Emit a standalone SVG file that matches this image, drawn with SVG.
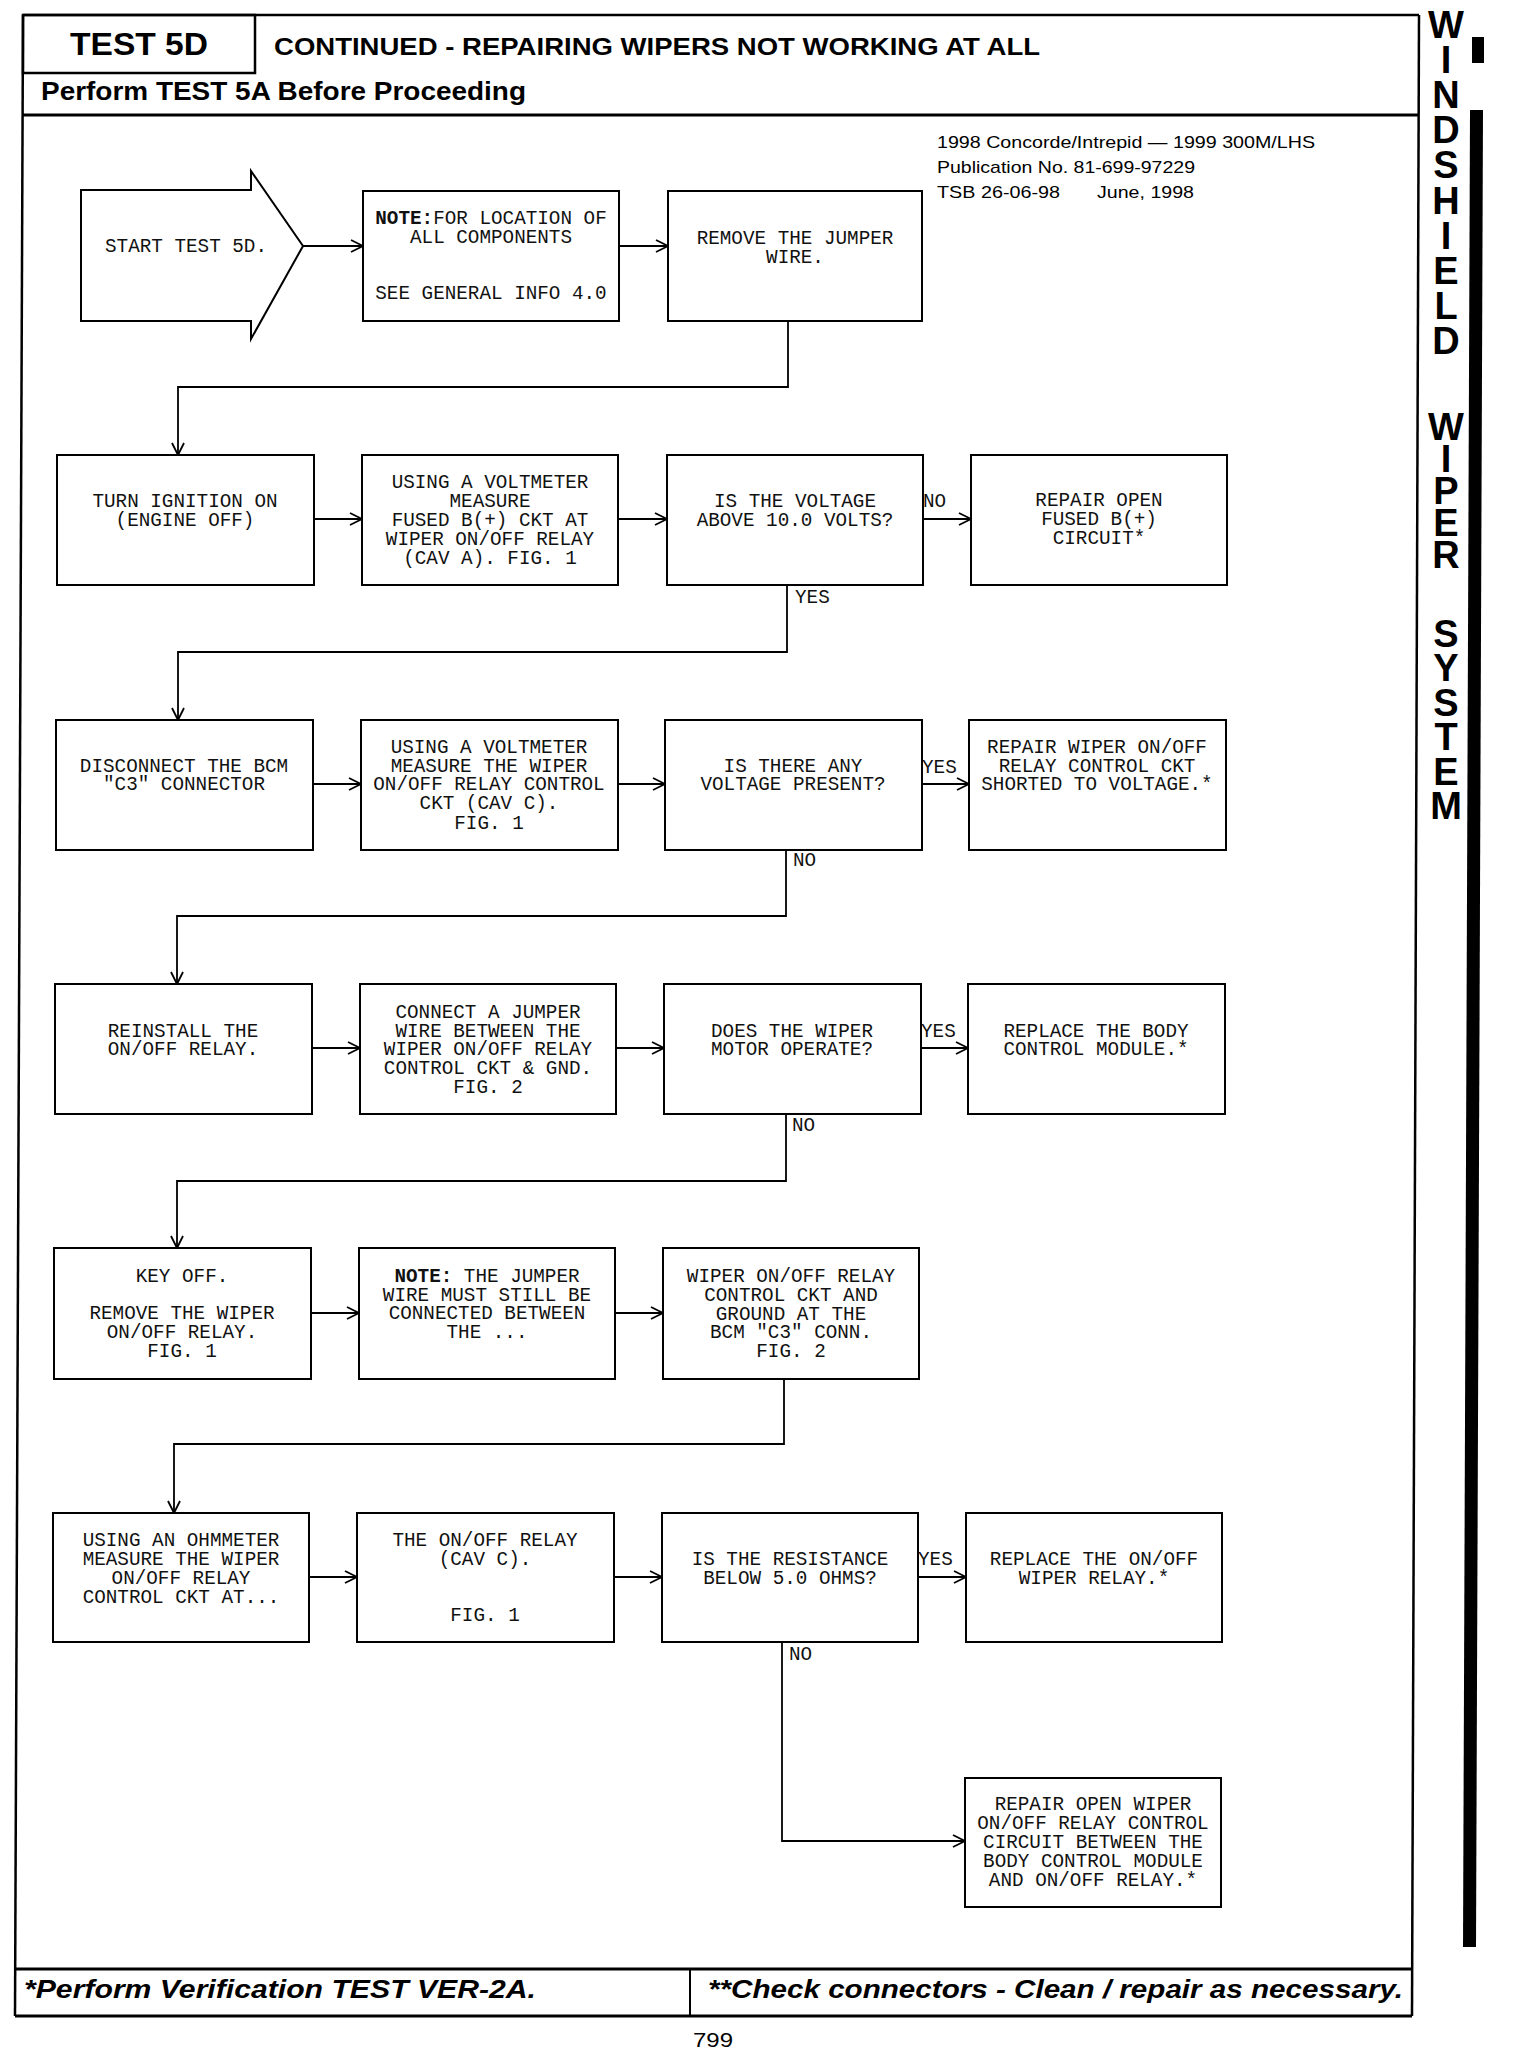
<svg xmlns="http://www.w3.org/2000/svg" width="1520" height="2050" viewBox="0 0 1520 2050">
<style>
.box{fill:#fff;stroke:#000;stroke-width:2}
.t{font-family:"Liberation Mono",monospace;font-size:19.3px;fill:#111;text-anchor:middle}
.lbl{font-family:"Liberation Mono",monospace;font-size:19.3px;fill:#111}
.b{font-weight:bold}
.c{fill:none;stroke:#000;stroke-width:1.8}
.frame{fill:none;stroke:#000;stroke-width:2.5}
.hd{font-family:"Liberation Sans",Arial,sans-serif;font-weight:bold;fill:#000}
.inf{font-family:"Liberation Sans",Arial,sans-serif;font-size:17px;fill:#000}
.side{font-family:"Liberation Sans",Arial,sans-serif;font-weight:bold;font-size:38px;fill:#000;writing-mode:vertical-rl;text-orientation:upright}
.ft{font-family:"Liberation Sans",Arial,sans-serif;font-weight:bold;font-style:italic;font-size:25px;fill:#000}
</style>
<defs>
<marker id="ah" viewBox="0 0 14 14" refX="13" refY="7" markerWidth="14" markerHeight="14" markerUnits="userSpaceOnUse" orient="auto">
<path d="M1,1 L13,7 L1,13" fill="none" stroke="#000" stroke-width="1.8"/>
</marker>
</defs>
<rect width="1520" height="2050" fill="#fff"/>

<g id="frame">
<polyline class="frame" points="23,15 1419,15"/>
<line class="frame" x1="23" y1="15" x2="15" y2="2016"/>
<line class="frame" x1="1419" y1="15" x2="1412" y2="2016"/>
<rect x="23" y="15" width="232" height="58" fill="none" stroke="#000" stroke-width="2.5"/>
<line x1="23" y1="115" x2="1419" y2="115" stroke="#000" stroke-width="3"/>
<line x1="15" y1="1969" x2="1412" y2="1969" stroke="#000" stroke-width="3"/>
<line x1="15" y1="2016" x2="1412" y2="2016" stroke="#000" stroke-width="3"/>
<line x1="690" y1="1969" x2="690" y2="2016" stroke="#000" stroke-width="2"/>
<rect x="1472" y="37" width="12" height="26" fill="#000"/>
<polygon points="1470,110 1483,110 1476,1947 1463,1947" fill="#000"/>
</g>

<g id="header">
<text class="hd" x="70" y="55" font-size="31" textLength="138" lengthAdjust="spacingAndGlyphs">TEST 5D</text>
<text class="hd" x="274" y="55" font-size="24" textLength="766" lengthAdjust="spacingAndGlyphs">CONTINUED - REPAIRING WIPERS NOT WORKING AT ALL</text>
<text class="hd" x="41" y="100" font-size="25" textLength="485" lengthAdjust="spacingAndGlyphs">Perform TEST 5A Before Proceeding</text>
<text class="inf" x="937" y="148" textLength="378" lengthAdjust="spacingAndGlyphs">1998 Concorde/Intrepid — 1999 300M/LHS</text>
<text class="inf" x="937" y="173" textLength="258" lengthAdjust="spacingAndGlyphs">Publication No. 81-699-97229</text>
<text class="inf" x="937" y="198" textLength="123" lengthAdjust="spacingAndGlyphs">TSB 26-06-98</text>
<text class="inf" x="1097" y="198" textLength="97" lengthAdjust="spacingAndGlyphs">June, 1998</text>
</g>

<g id="sidebar">
<text class="side" x="1446" y="4" textLength="358" lengthAdjust="spacing">WINDSHIELD</text>
<text class="side" x="1446" y="406" textLength="170" lengthAdjust="spacing">WIPER</text>
<text class="side" x="1446" y="613" textLength="214" lengthAdjust="spacing">SYSTEM</text>
</g>

<g id="connectors">
<line class="c" x1="303" y1="246" x2="363" y2="246" marker-end="url(#ah)"/>
<line class="c" x1="619" y1="246" x2="668" y2="246" marker-end="url(#ah)"/>
<polyline class="c" points="788,320 788,387 178,387 178,455" marker-end="url(#ah)"/>
<line class="c" x1="314" y1="519" x2="362" y2="519" marker-end="url(#ah)"/>
<line class="c" x1="618" y1="519" x2="667" y2="519" marker-end="url(#ah)"/>
<line class="c" x1="923" y1="519" x2="971" y2="519" marker-end="url(#ah)"/>
<polyline class="c" points="787,585 787,652 178,652 178,720" marker-end="url(#ah)"/>
<line class="c" x1="313" y1="784" x2="361" y2="784" marker-end="url(#ah)"/>
<line class="c" x1="618" y1="784" x2="665" y2="784" marker-end="url(#ah)"/>
<line class="c" x1="922" y1="784" x2="969" y2="784" marker-end="url(#ah)"/>
<polyline class="c" points="786,850 786,916 177,916 177,984" marker-end="url(#ah)"/>
<line class="c" x1="312" y1="1048" x2="360" y2="1048" marker-end="url(#ah)"/>
<line class="c" x1="616" y1="1048" x2="664" y2="1048" marker-end="url(#ah)"/>
<line class="c" x1="921" y1="1048" x2="968" y2="1048" marker-end="url(#ah)"/>
<polyline class="c" points="786,1114 786,1181 177,1181 177,1248" marker-end="url(#ah)"/>
<line class="c" x1="311" y1="1313" x2="359" y2="1313" marker-end="url(#ah)"/>
<line class="c" x1="615" y1="1313" x2="663" y2="1313" marker-end="url(#ah)"/>
<polyline class="c" points="784,1379 784,1444 174,1444 174,1513" marker-end="url(#ah)"/>
<line class="c" x1="309" y1="1577" x2="357" y2="1577" marker-end="url(#ah)"/>
<line class="c" x1="614" y1="1577" x2="662" y2="1577" marker-end="url(#ah)"/>
<line class="c" x1="918" y1="1577" x2="966" y2="1577" marker-end="url(#ah)"/>
<polyline class="c" points="782,1642 782,1841 965,1841" marker-end="url(#ah)"/>
<text class="lbl" x="923" y="507">NO</text>
<text class="lbl" x="795" y="603">YES</text>
<text class="lbl" x="922" y="773">YES</text>
<text class="lbl" x="793" y="866">NO</text>
<text class="lbl" x="921" y="1037">YES</text>
<text class="lbl" x="792" y="1131">NO</text>
<text class="lbl" x="918" y="1565">YES</text>
<text class="lbl" x="789" y="1660">NO</text>
</g>

<g id="start">
<polygon class="box" points="81,190 251,190 251,171 303,246 251,339 251,321 81,321"/>
<text class="t" x="186" y="252">START TEST 5D.</text>
</g>
<g id="note1">
<rect class="box" x="363" y="191" width="256" height="130"/>
<text class="t" x="491" y="224"><tspan class="b">NOTE:</tspan>FOR LOCATION OF</text>
<text class="t" x="491" y="243">ALL COMPONENTS</text>
<text class="t" x="491" y="299">SEE GENERAL INFO 4.0</text>
</g>
<g id="remove-jumper">
<rect class="box" x="668" y="191" width="254" height="130"/>
<text class="t" x="795" y="244">REMOVE THE JUMPER</text>
<text class="t" x="795" y="263">WIRE.</text>
</g>

<g id="ignition-on">
<rect class="box" x="57" y="455" width="257" height="130"/>
<text class="t" x="185" y="507">TURN IGNITION ON</text>
<text class="t" x="185" y="526">(ENGINE OFF)</text>
</g>
<g id="measure-fused">
<rect class="box" x="362" y="455" width="256" height="130"/>
<text class="t" x="490" y="488">USING A VOLTMETER</text>
<text class="t" x="490" y="507">MEASURE</text>
<text class="t" x="490" y="526">FUSED B(+) CKT AT</text>
<text class="t" x="490" y="545">WIPER ON/OFF RELAY</text>
<text class="t" x="490" y="564">(CAV A). FIG. 1</text>
</g>
<g id="q-voltage">
<rect class="box" x="667" y="455" width="256" height="130"/>
<text class="t" x="795" y="507">IS THE VOLTAGE</text>
<text class="t" x="795" y="526">ABOVE 10.0 VOLTS?</text>
</g>
<g id="repair-fused">
<rect class="box" x="971" y="455" width="256" height="130"/>
<text class="t" x="1099" y="506">REPAIR OPEN</text>
<text class="t" x="1099" y="525">FUSED B(+)</text>
<text class="t" x="1099" y="544">CIRCUIT*</text>
</g>

<g id="disconnect-bcm">
<rect class="box" x="56" y="720" width="257" height="130"/>
<text class="t" x="184" y="772">DISCONNECT THE BCM</text>
<text class="t" x="184" y="790">"C3" CONNECTOR</text>
</g>
<g id="measure-control">
<rect class="box" x="361" y="720" width="257" height="130"/>
<text class="t" x="489" y="753">USING A VOLTMETER</text>
<text class="t" x="489" y="772">MEASURE THE WIPER</text>
<text class="t" x="489" y="790">ON/OFF RELAY CONTROL</text>
<text class="t" x="489" y="809">CKT (CAV C).</text>
<text class="t" x="489" y="829">FIG. 1</text>
</g>
<g id="q-any-voltage">
<rect class="box" x="665" y="720" width="257" height="130"/>
<text class="t" x="793" y="772">IS THERE ANY</text>
<text class="t" x="793" y="790">VOLTAGE PRESENT?</text>
</g>
<g id="repair-shorted">
<rect class="box" x="969" y="720" width="257" height="130"/>
<text class="t" x="1097" y="753">REPAIR WIPER ON/OFF</text>
<text class="t" x="1097" y="772">RELAY CONTROL CKT</text>
<text class="t" x="1097" y="790">SHORTED TO VOLTAGE.*</text>
</g>

<g id="reinstall-relay">
<rect class="box" x="55" y="984" width="257" height="130"/>
<text class="t" x="183" y="1037">REINSTALL THE</text>
<text class="t" x="183" y="1055">ON/OFF RELAY.</text>
</g>
<g id="connect-jumper">
<rect class="box" x="360" y="984" width="256" height="130"/>
<text class="t" x="488" y="1018">CONNECT A JUMPER</text>
<text class="t" x="488" y="1037">WIRE BETWEEN THE</text>
<text class="t" x="488" y="1055">WIPER ON/OFF RELAY</text>
<text class="t" x="488" y="1074">CONTROL CKT &amp; GND.</text>
<text class="t" x="488" y="1093">FIG. 2</text>
</g>
<g id="q-motor">
<rect class="box" x="664" y="984" width="257" height="130"/>
<text class="t" x="792" y="1037">DOES THE WIPER</text>
<text class="t" x="792" y="1055">MOTOR OPERATE?</text>
</g>
<g id="replace-bcm">
<rect class="box" x="968" y="984" width="257" height="130"/>
<text class="t" x="1096" y="1037">REPLACE THE BODY</text>
<text class="t" x="1096" y="1055">CONTROL MODULE.*</text>
</g>

<g id="key-off">
<rect class="box" x="54" y="1248" width="257" height="131"/>
<text class="t" x="182" y="1282">KEY OFF.</text>
<text class="t" x="182" y="1319">REMOVE THE WIPER</text>
<text class="t" x="182" y="1338">ON/OFF RELAY.</text>
<text class="t" x="182" y="1357">FIG. 1</text>
</g>
<g id="note2">
<rect class="box" x="359" y="1248" width="256" height="131"/>
<text class="t" x="487" y="1282"><tspan class="b">NOTE:</tspan> THE JUMPER</text>
<text class="t" x="487" y="1301">WIRE MUST STILL BE</text>
<text class="t" x="487" y="1319">CONNECTED BETWEEN</text>
<text class="t" x="487" y="1338">THE ...</text>
</g>
<g id="control-ground">
<rect class="box" x="663" y="1248" width="256" height="131"/>
<text class="t" x="791" y="1282">WIPER ON/OFF RELAY</text>
<text class="t" x="791" y="1301">CONTROL CKT AND</text>
<text class="t" x="791" y="1320">GROUND AT THE</text>
<text class="t" x="791" y="1338">BCM "C3" CONN.</text>
<text class="t" x="791" y="1357">FIG. 2</text>
</g>

<g id="ohmmeter">
<rect class="box" x="53" y="1513" width="256" height="129"/>
<text class="t" x="181" y="1546">USING AN OHMMETER</text>
<text class="t" x="181" y="1565">MEASURE THE WIPER</text>
<text class="t" x="181" y="1584">ON/OFF RELAY</text>
<text class="t" x="181" y="1603">CONTROL CKT AT...</text>
</g>
<g id="relay-cav-c">
<rect class="box" x="357" y="1513" width="257" height="129"/>
<text class="t" x="485" y="1546">THE ON/OFF RELAY</text>
<text class="t" x="485" y="1565">(CAV C).</text>
<text class="t" x="485" y="1621">FIG. 1</text>
</g>
<g id="q-resistance">
<rect class="box" x="662" y="1513" width="256" height="129"/>
<text class="t" x="790" y="1565">IS THE RESISTANCE</text>
<text class="t" x="790" y="1584">BELOW 5.0 OHMS?</text>
</g>
<g id="replace-relay">
<rect class="box" x="966" y="1513" width="256" height="129"/>
<text class="t" x="1094" y="1565">REPLACE THE ON/OFF</text>
<text class="t" x="1094" y="1584">WIPER RELAY.*</text>
</g>
<g id="repair-open-wiper">
<rect class="box" x="965" y="1778" width="256" height="129"/>
<text class="t" x="1093" y="1810">REPAIR OPEN WIPER</text>
<text class="t" x="1093" y="1829">ON/OFF RELAY CONTROL</text>
<text class="t" x="1093" y="1848">CIRCUIT BETWEEN THE</text>
<text class="t" x="1093" y="1867">BODY CONTROL MODULE</text>
<text class="t" x="1093" y="1886">AND ON/OFF RELAY.*</text>
</g>

<g id="footer">
<text class="ft" x="24" y="1998" textLength="512" lengthAdjust="spacingAndGlyphs">*Perform Verification TEST VER-2A.</text>
<text class="ft" x="708" y="1998" textLength="695" lengthAdjust="spacingAndGlyphs">**Check connectors - Clean / repair as necessary.</text>
<text x="713" y="2047" font-family="Liberation Sans,Arial,sans-serif" font-size="21" text-anchor="middle" textLength="40" lengthAdjust="spacingAndGlyphs">799</text>
</g>
</svg>
